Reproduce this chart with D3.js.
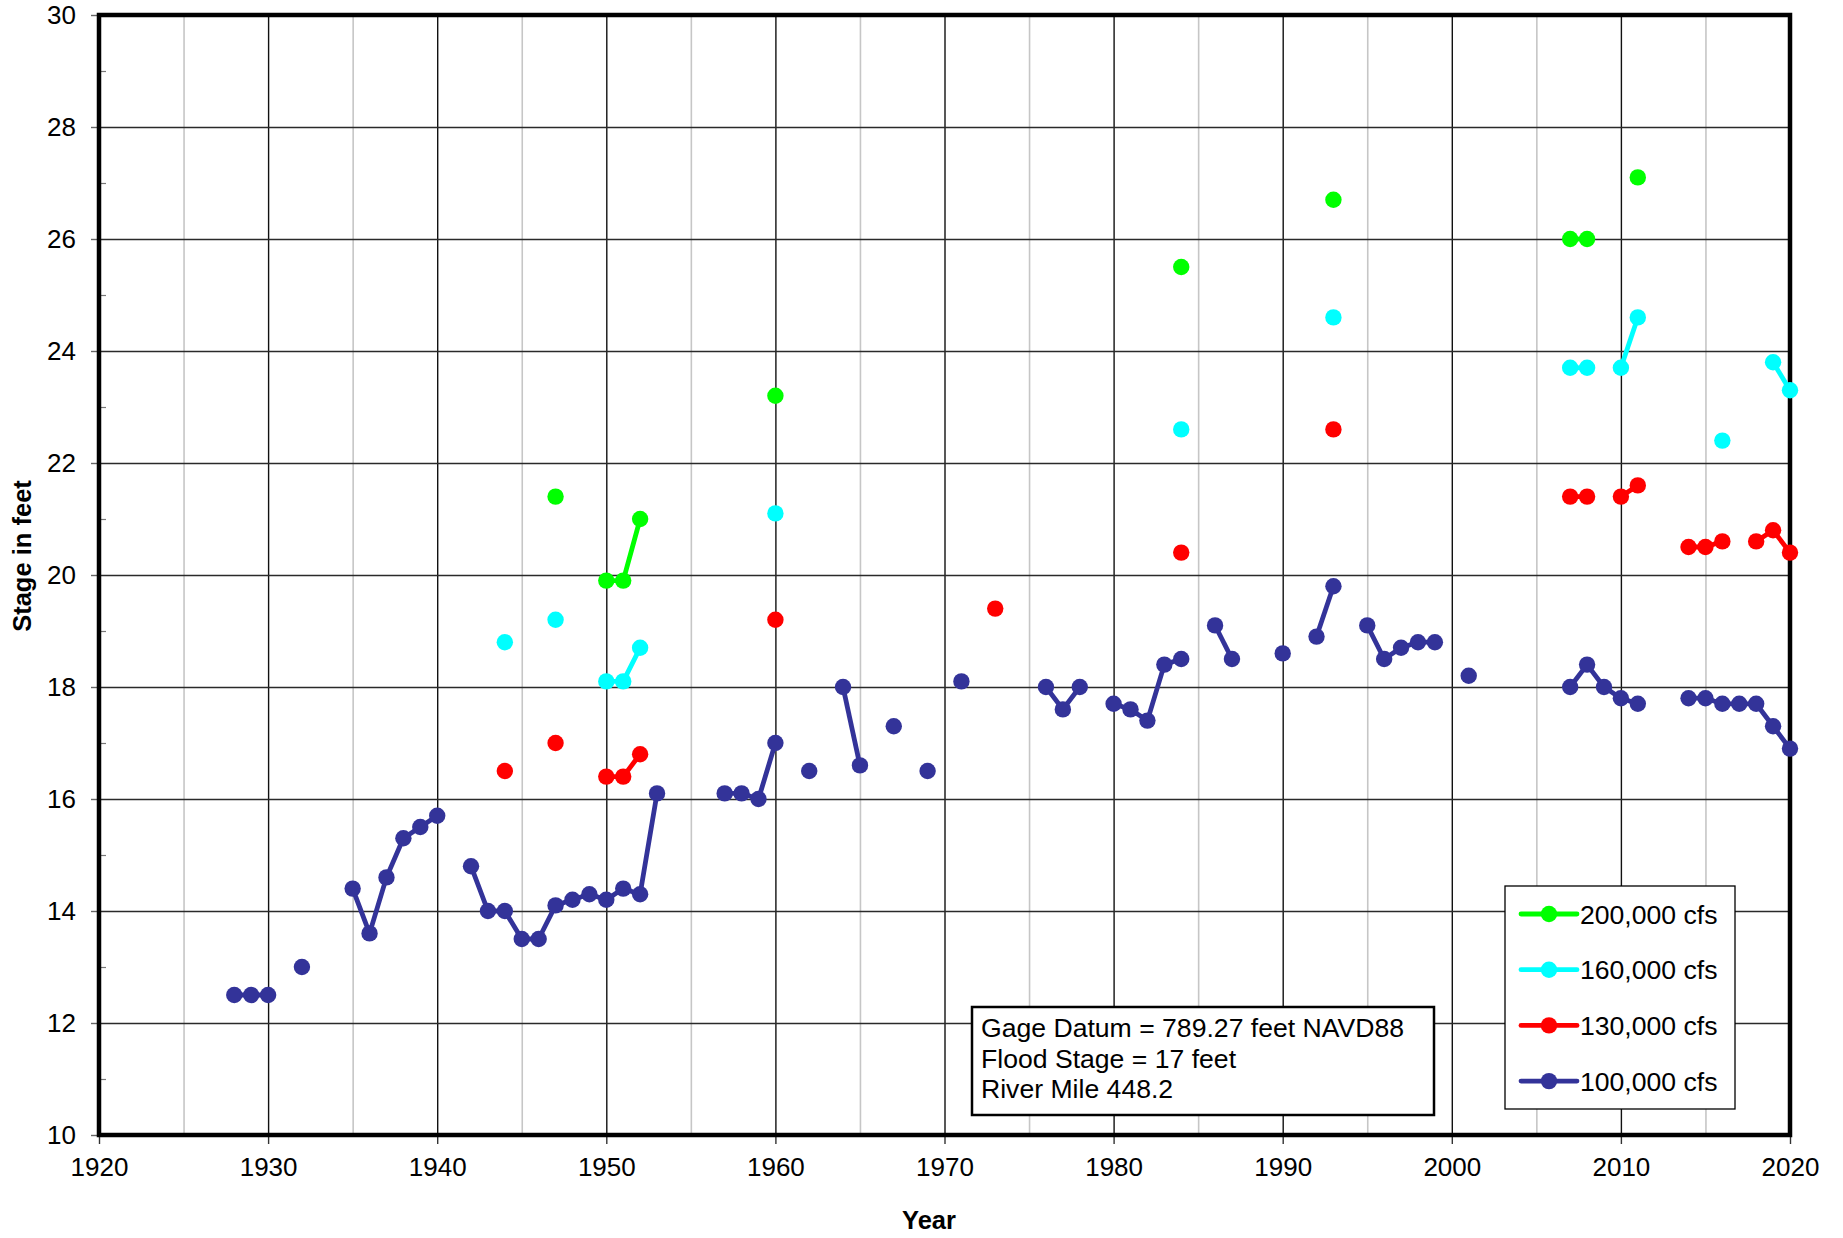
<!DOCTYPE html>
<html>
<head>
<meta charset="utf-8">
<script src="https://cdn.jsdelivr.net/npm/d3@7"></script>
<style>
  body { margin: 0; background: #fff; }
  svg { display: block; }
  text { font-family: "Liberation Sans", Arial, Helvetica, sans-serif; fill: #000; }
</style>
</head>
<body>
<svg id="chart" width="1843" height="1238"></svg>
<script>
// Axis ticks
const xTicks = [1920, 1930, 1940, 1950, 1960, 1970, 1980, 1990, 2000, 2010, 2020];
const xMinorTicks = [1925, 1935, 1945, 1955, 1965, 1975, 1985, 1995, 2005, 2015];
const yTicks = [10, 12, 14, 16, 18, 20, 22, 24, 26, 28, 30];
const yMinorTicks = [11, 13, 15, 17, 19, 21, 23, 25, 27, 29];

// Series labels and colours (legend order)
const seriesNames = ["200,000 cfs", "160,000 cfs", "130,000 cfs", "100,000 cfs"];
const seriesColors = ["#00ff00", "#00ffff", "#ff0000", "#333399"];

// Annual stage (feet) for each discharge
const flow200Years = [1947, 1950, 1951, 1952, 1960, 1984, 1993, 2007, 2008, 2011];
const flow200Stage = [21.4, 19.9, 19.9, 21.0, 23.2, 25.5, 26.7, 26.0, 26.0, 27.1];

const flow160Years = [1944, 1947, 1950, 1951, 1952, 1960, 1984, 1993, 2007, 2008, 2010, 2011, 2016, 2019, 2020];
const flow160Stage = [18.8, 19.2, 18.1, 18.1, 18.7, 21.1, 22.6, 24.6, 23.7, 23.7, 23.7, 24.6, 22.4, 23.8, 23.3];

const flow130Years = [1944, 1947, 1950, 1951, 1952, 1960, 1973, 1984, 1993, 2007, 2008, 2010, 2011, 2014, 2015, 2016, 2018, 2019, 2020];
const flow130Stage = [16.5, 17.0, 16.4, 16.4, 16.8, 19.2, 19.4, 20.4, 22.6, 21.4, 21.4, 21.4, 21.6, 20.5, 20.5, 20.6, 20.6, 20.8, 20.4];

const flow100Years = [1928, 1929, 1930, 1932, 1935, 1936, 1937, 1938, 1939, 1940,
  1942, 1943, 1944, 1945, 1946, 1947, 1948, 1949, 1950, 1951, 1952, 1953,
  1957, 1958, 1959, 1960, 1962, 1964, 1965, 1967, 1969, 1971,
  1976, 1977, 1978, 1980, 1981, 1982, 1983, 1984, 1986, 1987,
  1990, 1992, 1993, 1995, 1996, 1997, 1998, 1999, 2001,
  2007, 2008, 2009, 2010, 2011, 2014, 2015, 2016, 2017, 2018, 2019, 2020];
const flow100Stage = [12.5, 12.5, 12.5, 13.0, 14.4, 13.6, 14.6, 15.3, 15.5, 15.7,
  14.8, 14.0, 14.0, 13.5, 13.5, 14.1, 14.2, 14.3, 14.2, 14.4, 14.3, 16.1,
  16.1, 16.1, 16.0, 17.0, 16.5, 18.0, 16.6, 17.3, 16.5, 18.1,
  18.0, 17.6, 18.0, 17.7, 17.6, 17.4, 18.4, 18.5, 19.1, 18.5,
  18.6, 18.9, 19.8, 19.1, 18.5, 18.7, 18.8, 18.8, 18.2,
  18.0, 18.4, 18.0, 17.8, 17.7, 17.8, 17.8, 17.7, 17.7, 17.7, 17.3, 16.9];

const noteLines = ["Gage Datum = 789.27 feet NAVD88", "Flood Stage = 17 feet", "River Mile 448.2"];
const xTitle = "Year";
const yTitle = "Stage in feet";

// Layout
const plot = { left: 99, right: 1790, top: 15, bottom: 1135 };
const svg = d3.select("#chart");

const x = d3.scaleLinear().domain([1920, 2020]).range([plot.left, plot.right]);
const y = d3.scaleLinear().domain([10, 30]).range([plot.bottom, plot.top]);
const plotW = plot.right - plot.left;
const plotH = plot.bottom - plot.top;

// Grid: minor years (light), major years (dark), stage every 2 ft
svg.append("g")
  .attr("transform", `translate(0,${plot.bottom})`)
  .call(d3.axisBottom(x).tickValues(xMinorTicks).tickSize(-plotH).tickFormat(""))
  .call(g => g.select(".domain").remove())
  .call(g => g.selectAll("line").attr("stroke", "#c6c6c6").attr("stroke-width", 1.6));

svg.append("g")
  .attr("transform", `translate(0,${plot.bottom})`)
  .call(d3.axisBottom(x).tickValues(xTicks).tickSize(-plotH).tickFormat(""))
  .call(g => g.select(".domain").remove())
  .call(g => g.selectAll("line").attr("stroke", "#111").attr("stroke-width", 1.4));

svg.append("g")
  .attr("transform", `translate(${plot.left},0)`)
  .call(d3.axisLeft(y).tickValues(yTicks).tickSize(-plotW).tickFormat(""))
  .call(g => g.select(".domain").remove())
  .call(g => g.selectAll("line").attr("stroke", "#2a2a2a").attr("stroke-width", 1.6));

// Minor stage ticks inside the left edge
svg.append("g")
  .attr("transform", `translate(${plot.left},0)`)
  .call(d3.axisRight(y).tickValues(yMinorTicks).tickSize(7).tickFormat(""))
  .call(g => g.select(".domain").remove())
  .call(g => g.selectAll("line").attr("stroke", "#777").attr("stroke-width", 1.2));

// Axes with outside major ticks and labels
const yAxis = svg.append("g")
  .attr("transform", `translate(${plot.left},0)`)
  .call(d3.axisLeft(y).tickValues(yTicks).tickSize(8).tickSizeOuter(0).tickPadding(15).tickFormat(d3.format("d")))
  .call(g => g.select(".domain").remove());
yAxis.selectAll("line").attr("stroke", "#666").attr("stroke-width", 1.4);
yAxis.selectAll("text").attr("font-size", 26).attr("font-family", "'Liberation Sans', Arial, sans-serif").attr("fill", "#000");

const xAxis = svg.append("g")
  .attr("transform", `translate(0,${plot.bottom})`)
  .call(d3.axisBottom(x).tickValues(xTicks).tickSize(9).tickSizeOuter(0).tickPadding(14).tickFormat(d3.format("d")))
  .call(g => g.select(".domain").remove());
xAxis.selectAll("line").attr("stroke", "#333").attr("stroke-width", 1.4);
xAxis.selectAll("text").attr("font-size", 26).attr("font-family", "'Liberation Sans', Arial, sans-serif").attr("fill", "#000");

// Plot frame
svg.append("rect")
  .attr("x", plot.left).attr("y", plot.top)
  .attr("width", plotW).attr("height", plotH)
  .attr("fill", "none").attr("stroke", "#000").attr("stroke-width", 4.5);

// Axis titles
svg.append("text")
  .attr("x", 929).attr("y", 1229)
  .attr("text-anchor", "middle")
  .attr("font-size", 25.5).attr("font-weight", "bold")
  .text(xTitle);

svg.append("text")
  .attr("transform", "translate(31,556) rotate(-90)")
  .attr("text-anchor", "middle")
  .attr("font-size", 25.5).attr("font-weight", "bold")
  .text(yTitle);

// Series: lines join consecutive years only, markers at every record
const series = [
  { years: flow200Years, stage: flow200Stage },
  { years: flow160Years, stage: flow160Stage },
  { years: flow130Years, stage: flow130Stage },
  { years: flow100Years, stage: flow100Stage }
].map((s, i) => ({
  name: seriesNames[i],
  color: seriesColors[i],
  points: s.years.map((yr, j) => ({ year: yr, value: s.stage[j] }))
}));

function segments(points) {
  const out = [];
  let cur = [];
  points.forEach((p, i) => {
    if (i > 0 && p.year - points[i - 1].year > 1) { out.push(cur); cur = []; }
    cur.push(p);
  });
  if (cur.length) out.push(cur);
  return out.filter(s => s.length > 1);
}

const line = d3.line().x(d => x(d.year)).y(d => y(d.value));
const markerR = 8.2;

// Draw bottom-most series first so the highest discharge sits on top
const drawOrder = series.slice().reverse();
drawOrder.forEach(s => {
  const g = svg.append("g");
  g.selectAll("path")
    .data(segments(s.points))
    .join("path")
    .attr("d", line)
    .attr("fill", "none")
    .attr("stroke", s.color)
    .attr("stroke-width", 4.8)
    .attr("stroke-linejoin", "round");
  g.selectAll("circle")
    .data(s.points)
    .join("circle")
    .attr("cx", d => x(d.year))
    .attr("cy", d => y(d.value))
    .attr("r", markerR)
    .attr("fill", s.color);
});

// Station note box
const note = svg.append("g");
note.append("rect")
  .attr("x", 972).attr("y", 1007).attr("width", 462).attr("height", 108)
  .attr("fill", "#fff").attr("stroke", "#000").attr("stroke-width", 2.5);
note.selectAll("text")
  .data(noteLines)
  .join("text")
  .attr("x", 981)
  .attr("y", (d, i) => 1037 + i * 30.5)
  .attr("font-size", 26.6)
  .text(d => d);

// Legend
const legend = svg.append("g");
legend.append("rect")
  .attr("x", 1505).attr("y", 886).attr("width", 230).attr("height", 223)
  .attr("fill", "#fff").attr("stroke", "#000").attr("stroke-width", 1.3);
const rows = legend.selectAll("g.row")
  .data(series)
  .join("g")
  .attr("class", "row")
  .attr("transform", (d, i) => `translate(0,${914 + i * 55.7})`);
rows.append("line")
  .attr("x1", 1521).attr("x2", 1577)
  .attr("stroke", d => d.color).attr("stroke-width", 4.8).attr("stroke-linecap", "round");
rows.append("circle")
  .attr("cx", 1549).attr("r", markerR).attr("fill", d => d.color);
rows.append("text")
  .attr("x", 1580).attr("y", 9.5)
  .attr("font-size", 26.6)
  .text(d => d.name);
</script>
</body>
</html>
